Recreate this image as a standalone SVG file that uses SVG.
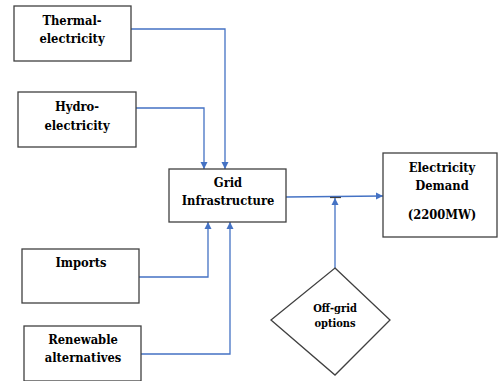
<svg xmlns="http://www.w3.org/2000/svg" width="498" height="381" viewBox="0 0 498 381">
<defs>
<marker id="arr" markerWidth="8" markerHeight="8" refX="7" refY="4" orient="auto" markerUnits="userSpaceOnUse">
<path d="M0,0.5 L7,4 L0,7.5 Z" fill="#4472C4"/>
</marker>
</defs>
<style>
.box{fill:#fff;stroke:#404040;stroke-width:1.3}
.t{font-family:'DejaVu Serif Condensed','DejaVu Serif',serif;font-stretch:condensed;font-weight:700;font-size:12.8px;fill:#000;text-anchor:middle}
.s{font-size:11px}
.c{fill:none;stroke:#4472C4;stroke-width:1.3}
</style>
<rect width="498" height="381" fill="#fff"/>
<g id="connectors">
<polyline class="c" points="131,29 225,29 225,169" marker-end="url(#arr)"/>
<polyline class="c" points="136,108 204,108 204,169" marker-end="url(#arr)"/>
<polyline class="c" points="139,277 208,277 208,222" marker-end="url(#arr)"/>
<polyline class="c" points="141,354 230,354 230,222" marker-end="url(#arr)"/>
<line class="c" x1="286" y1="197" x2="383" y2="196" marker-end="url(#arr)"/>
<line class="c" x1="335" y1="268" x2="335" y2="198" marker-end="url(#arr)"/>
<line x1="330" y1="197.5" x2="341" y2="197.5" stroke="#404040" stroke-width="1.2"/>
</g>
<g id="thermal">
<rect class="box" x="14" y="6" width="117" height="55"/>
<text class="t" x="72" y="25">Thermal-</text>
<text class="t" x="72" y="43">electricity</text>
</g>
<g id="hydro">
<rect class="box" x="18" y="92" width="118" height="55"/>
<text class="t" x="77" y="111">Hydro-</text>
<text class="t" x="77" y="130">electricity</text>
</g>
<g id="grid">
<rect class="box" x="169" y="169" width="117" height="53"/>
<text class="t" x="228" y="187">Grid</text>
<text class="t" x="228" y="205">Infrastructure</text>
</g>
<g id="demand">
<rect class="box" x="383" y="153" width="114" height="84"/>
<text class="t" x="442" y="172">Electricity</text>
<text class="t" x="442" y="190">Demand</text>
<text class="t" x="442" y="219">(2200MW)</text>
</g>
<g id="imports">
<rect class="box" x="22" y="249" width="117" height="54"/>
<text class="t" x="81" y="267">Imports</text>
</g>
<g id="renewable">
<rect class="box" x="24" y="326" width="117" height="55"/>
<text class="t" x="83" y="344">Renewable</text>
<text class="t" x="83" y="362">alternatives</text>
</g>
<g id="offgrid">
<polygon class="box" points="335,268 390,320 335,375 271,320"/>
<text class="t s" x="335" y="312">Off-grid</text>
<text class="t s" x="335" y="327">options</text>
</g>
</svg>
